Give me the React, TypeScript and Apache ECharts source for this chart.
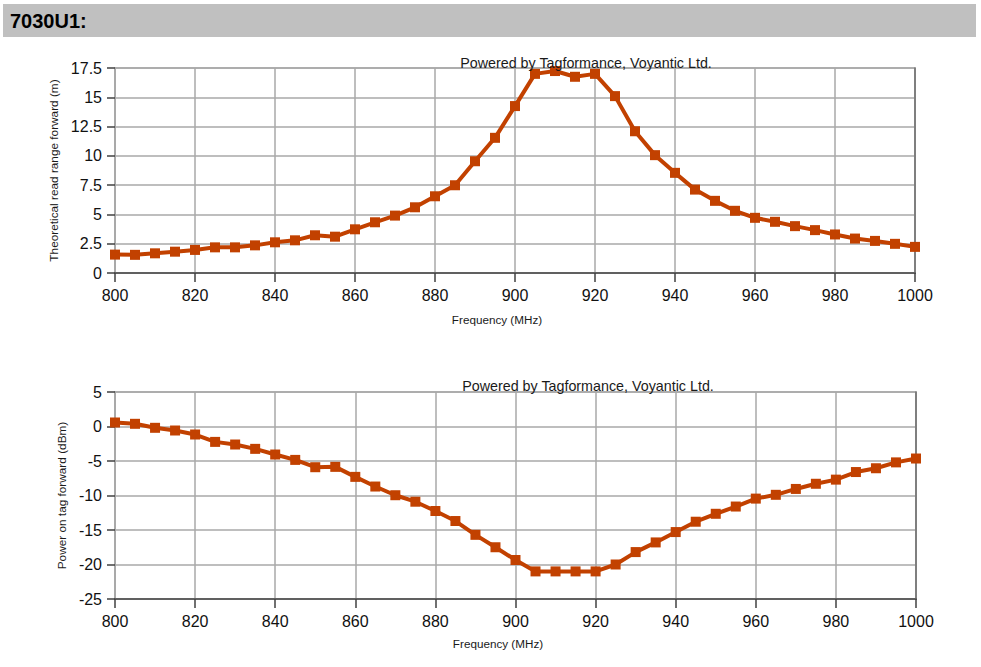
import React, { useEffect, useRef } from "react";
import * as echarts from "echarts";

const frequencies = [
  800, 805, 810, 815, 820, 825, 830, 835, 840, 845, 850, 855, 860, 865, 870, 875, 880, 885, 890, 895, 900,
  905, 910, 915, 920, 925, 930, 935, 940, 945, 950, 955, 960, 965, 970, 975, 980, 985, 990, 995, 1000,
];
const readRange = [
  1.57, 1.55, 1.68, 1.82, 1.97, 2.19, 2.19, 2.36, 2.62, 2.79, 3.22, 3.1, 3.73, 4.33, 4.9, 5.61, 6.55, 7.49,
  9.54, 11.54, 14.25, 17.0, 17.24, 16.75, 17.0, 15.1, 12.1, 10.06, 8.55, 7.12, 6.16, 5.31, 4.71, 4.37, 4.0,
  3.66, 3.29, 2.94, 2.74, 2.49, 2.23,
];
const tagPower = [
  0.58, 0.39, -0.19, -0.58, -1.16, -2.23, -2.61, -3.24, -4.06, -4.84, -5.9, -5.85, -7.3, -8.7, -9.96, -10.9,
  -12.25, -13.7, -15.7, -17.5, -19.35, -21.0, -21.0, -21.0, -21.0, -20.0, -18.2, -16.8, -15.3, -13.8, -12.65,
  -11.6, -10.45, -9.9, -9.05, -8.3, -7.7, -6.6, -6.05, -5.2, -4.64,
];
const headerTitle = "7030U1:";
const poweredBy = "Powered by Tagformance, Voyantic Ltd.";
const xName = "Frequency (MHz)";
const yNameTop = "Theoretical read range forward (m)";
const yNameBottom = "Power on tag forward (dBm)";

const FONT = "Liberation Sans";
const LINE_COLOR = "#c24100";
const GRID_COLOR = "#a8a8a8";

export default function App() {
  const ref = useRef<HTMLDivElement>(null);
  useEffect(() => {
    document.body.style.margin = "0";
    const chart = echarts.init(ref.current!, null, { renderer: "svg" });
    const xAxisBase = (gridIndex: number) => ({
      type: "value",
      gridIndex,
      min: 800,
      max: 1000,
      interval: 20,
      axisLine: { show: true, onZero: false, lineStyle: { color: "#606060", width: 2 } },
      axisTick: { show: true, length: 9, lineStyle: { color: "#404040", width: 1.5 } },
      axisLabel: { color: "#111", fontFamily: FONT, fontSize: 16, margin: 14, formatter: (v: number) => String(v) },
      splitLine: { show: true, lineStyle: { color: GRID_COLOR, width: 1.5 } },
    });
    const yAxisBase = (gridIndex: number, min: number, max: number, interval: number, name: string, nameGap: number) => ({
      type: "value",
      gridIndex,
      min,
      max,
      interval,
      name,
      nameLocation: "middle",
      nameGap,
      nameRotate: 90,
      nameTextStyle: { color: "#1a1a1a", fontFamily: FONT, fontSize: 11.8 },
      axisLine: { show: true, lineStyle: { color: GRID_COLOR, width: 1.5 } },
      axisTick: { show: true, length: 8, lineStyle: { color: "#404040", width: 1.5 } },
      axisLabel: { color: "#111", fontFamily: FONT, fontSize: 16, margin: 13, formatter: (v: number) => String(v) },
      splitLine: { show: true, lineStyle: { color: GRID_COLOR, width: 1.5 } },
    });
    const rightBorder = (gridIndex: number, min: number, max: number) => ({
      type: "value",
      gridIndex,
      min,
      max,
      position: "right",
      axisLine: { show: true, lineStyle: { color: "#707070", width: 1.5 } },
      axisTick: { show: false },
      axisLabel: { show: false },
      splitLine: { show: false },
    });
    const seriesBase = {
      type: "line",
      symbol: "rect",
      symbolSize: 10,
      lineStyle: { color: LINE_COLOR, width: 4 },
      itemStyle: { color: LINE_COLOR },
      z: 5,
    };
    chart.setOption({
      animation: false,
      backgroundColor: "#ffffff",
      grid: [
        { left: 115, top: 68, width: 800, height: 205, show: true, borderColor: GRID_COLOR, borderWidth: 1.5 },
        { left: 115, top: 392, width: 801, height: 207, show: true, borderColor: GRID_COLOR, borderWidth: 1.5 },
      ],
      xAxis: [xAxisBase(0), xAxisBase(1)],
      yAxis: [
        yAxisBase(0, 0, 17.5, 2.5, yNameTop, 55),
        yAxisBase(1, -25, 5, 5, yNameBottom, 47),
        rightBorder(0, 0, 17.5),
        rightBorder(1, -25, 5),
      ],
      series: [
        { ...seriesBase, xAxisIndex: 0, yAxisIndex: 0, data: frequencies.map((f, i) => [f, readRange[i]]) },
        { ...seriesBase, xAxisIndex: 1, yAxisIndex: 1, data: frequencies.map((f, i) => [f, tagPower[i]]) },
      ],
      graphic: [
        { type: "rect", left: 3, top: 4, shape: { width: 973, height: 33 }, style: { fill: "#c0c0c0" } },
        {
          type: "text",
          left: 10,
          top: 11,
          style: { text: headerTitle, font: `bold 20px '${FONT}'`, fill: "#000" },
        },
        {
          type: "text",
          x: 586,
          y: 63,
          z: 10,
          style: { text: poweredBy, font: `14.3px '${FONT}'`, fill: "#1a1a1a", textAlign: "center", textVerticalAlign: "middle" },
        },
        {
          type: "text",
          x: 588,
          y: 386,
          z: 10,
          style: { text: poweredBy, font: `14.3px '${FONT}'`, fill: "#1a1a1a", textAlign: "center", textVerticalAlign: "middle" },
        },
        {
          type: "text",
          x: 497,
          y: 319,
          style: { text: xName, font: `11.7px '${FONT}'`, fill: "#1a1a1a", textAlign: "center", textVerticalAlign: "middle" },
        },
        {
          type: "text",
          x: 498,
          y: 643,
          style: { text: xName, font: `11.7px '${FONT}'`, fill: "#1a1a1a", textAlign: "center", textVerticalAlign: "middle" },
        },
      ],
    });
    return () => chart.dispose();
  }, []);
  return <div ref={ref} style={{ width: 981, height: 667 }} />;
}
